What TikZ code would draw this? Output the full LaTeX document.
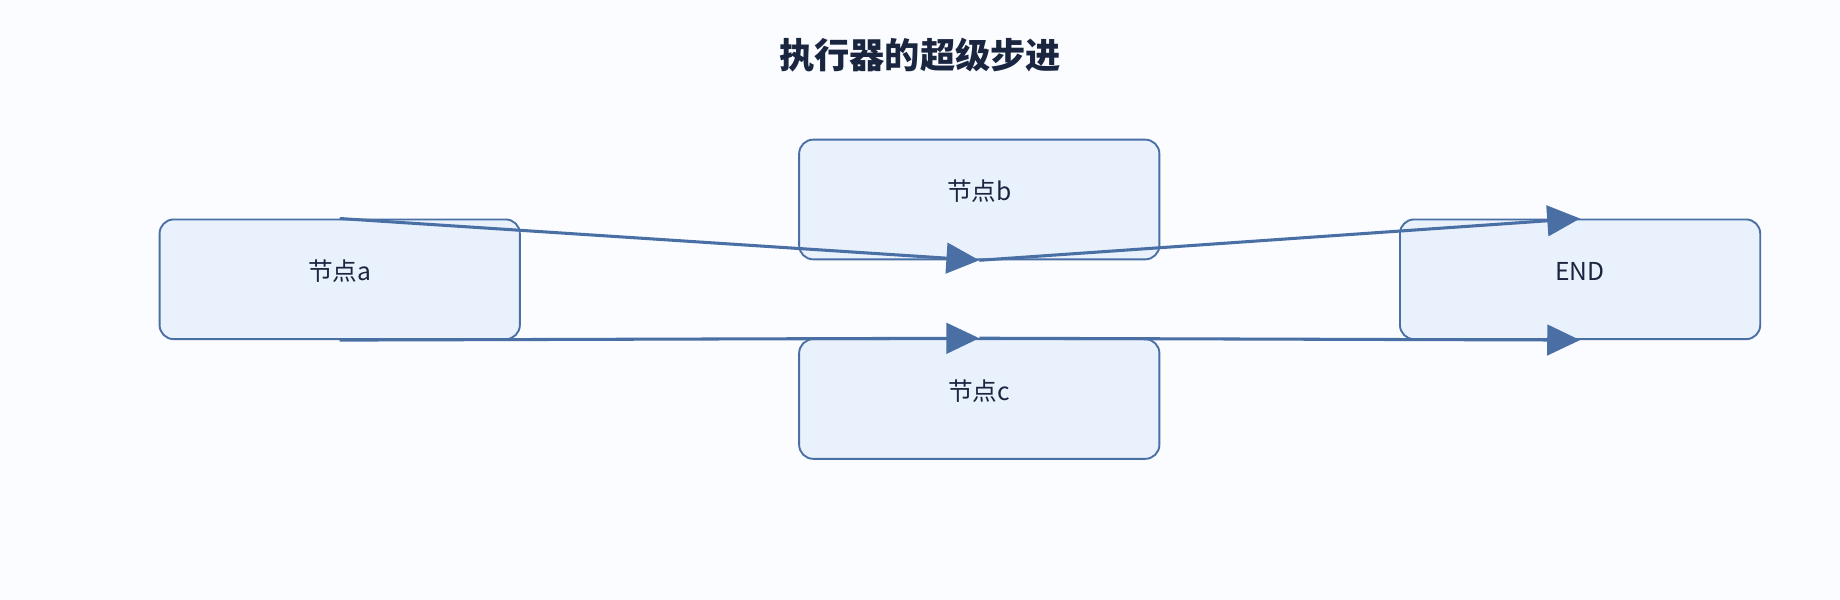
\documentclass[tikz,border=0pt]{standalone}
\usepackage{fontspec}
\setmainfont{Noto Sans CJK SC}
\usetikzlibrary{arrows.meta}
\definecolor{bg}{HTML}{FAFCFF}
\definecolor{nfill}{HTML}{E9F1FC}
\definecolor{edge}{HTML}{4A6FA5}
\definecolor{txt}{HTML}{1A2540}
\begin{document}
\begin{tikzpicture}[x=0.5pt,y=-0.5pt,
  box/.style={draw=edge,fill=nfill,rounded corners=6pt,line width=0.8pt,minimum width=153.5pt,minimum height=51pt,inner sep=0pt,text=txt,font=\fontsize{10.5pt}{12pt}\selectfont},
  conn/.style={draw=edge,line width=1.3pt,-{Triangle[length=14pt,width=13pt]}}]
\fill[bg] (0,0) rectangle (1568,511);
\node[font=\bfseries\fontsize{15pt}{18pt}\selectfont,text=txt] (title) at (784,47) {执行器的超级步进};
\node[box] (a) at (289.5,238) {};
\node[text=txt,font=\fontsize{10.5pt}{12pt}\selectfont] (al) at (289.5,231) {节点a};
\node[box] (b) at (834.5,170) {};
\node[text=txt,font=\fontsize{10.5pt}{12pt}\selectfont] (bl) at (834.5,163) {节点b};
\node[box] (c) at (834.5,340) {};
\node[text=txt,font=\fontsize{10.5pt}{12pt}\selectfont] (cl) at (834.5,333) {节点c};
\node[box] (e) at (1346.5,238) {};
\node[text=txt,font=\fontsize{10.5pt}{12pt}\selectfont] (el) at (1346.5,231) {END};
\draw[conn] (a.north) -- (b.south);
\draw[conn] (b.south) -- (e.north);
\draw[conn] (a.south) -- (c.north);
\draw[conn] (c.north) -- (e.south);
\end{tikzpicture}
\end{document}
